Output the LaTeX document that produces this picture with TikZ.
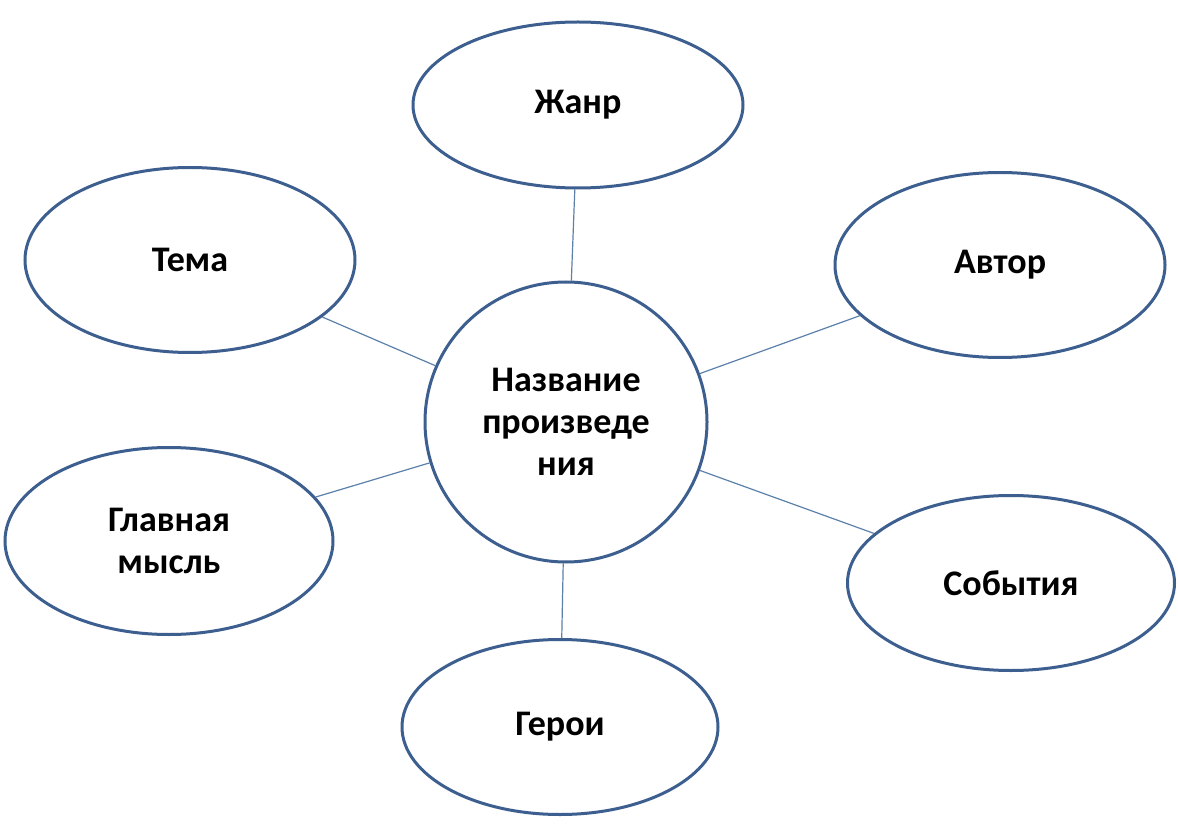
\documentclass[tikz,border=0pt]{standalone}
\usepackage{fontspec}
\setmainfont{Carlito}
\usetikzlibrary{shapes.geometric}
\definecolor{ringc}{HTML}{3D5F8F}
\definecolor{linec}{HTML}{5B80AA}
\begin{document}
\begin{tikzpicture}[x=1pt,y=-1pt,
  oval/.style={ellipse,draw=ringc,line width=3pt,fill=white,inner sep=0pt,font=\fontsize{36}{42}\selectfont\bfseries,align=center},
  conn/.style={draw=linec,line width=1.2pt}]
\useasboundingbox (0,0) rectangle (1178,826);
\node[oval,minimum width=282pt,minimum height=280pt] (c) at (566,422) {Название\\произведе\\ния};
\node[oval,minimum width=330pt,minimum height=166pt] (zh) at (578,105) {Жанр};
\node[oval,minimum width=330pt,minimum height=185pt] (t) at (190,260) {Тема};
\node[oval,minimum width=330pt,minimum height=185pt] (a) at (1000,265) {Автор};
\node[oval,minimum width=328pt,minimum height=187pt] (g) at (169,541) {Главная\\мысль};
\node[oval,minimum width=327pt,minimum height=175pt] (s) at (1011,583) {События};
\node[oval,minimum width=316pt,minimum height=175pt] (h) at (560,727) {Герои};
\foreach \n in {zh,t,a,g,s,h} \draw[conn] (c) -- (\n);
\end{tikzpicture}
\end{document}
